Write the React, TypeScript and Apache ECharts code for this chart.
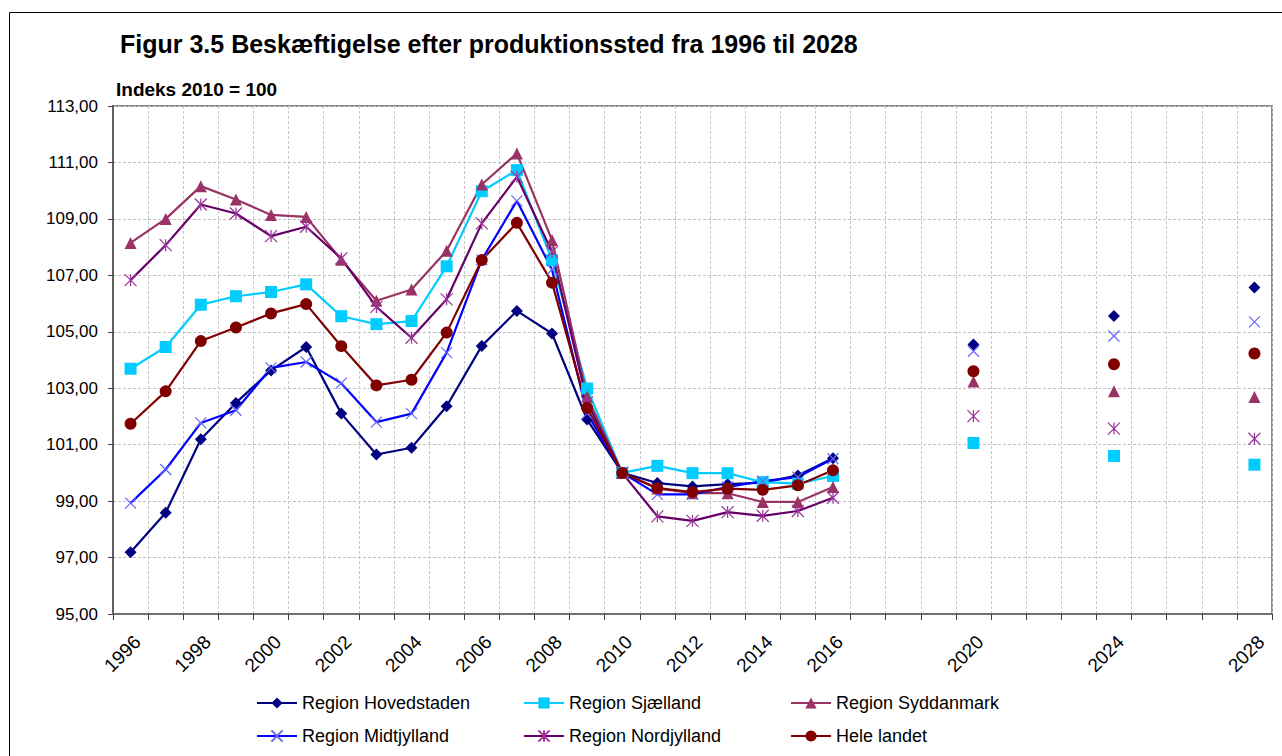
import React, { useEffect, useRef } from "react";
import * as echarts from "echarts";

const years = [
  "1996", "1997", "1998", "1999", "2000", "2001", "2002", "2003", "2004", "2005", "2006",
  "2007", "2008", "2009", "2010", "2011", "2012", "2013", "2014", "2015", "2016",
  "2017", "2018", "2019", "2020", "2021", "2022", "2023", "2024", "2025", "2026", "2027", "2028",
];
const shownYearLabels = [
  "1996", "1998", "2000", "2002", "2004", "2006", "2008", "2010", "2012", "2014", "2016",
  "2020", "2024", "2028",
];

const hovedstaden = [
  97.19, 98.59, 101.19, 102.48, 103.63, 104.46, 102.1, 100.65, 100.89, 102.36, 104.5,
  105.74, 104.94, 101.89, 100.0, 99.64, 99.52, 99.6, 99.65, 99.91, 100.52,
  null, null, null, 104.55, null, null, null, 105.56, null, null, null, 106.57,
];
const sjaelland = [
  103.69, 104.46, 105.96, 106.26, 106.41, 106.68, 105.55, 105.27, 105.38, 107.32, 109.98,
  110.73, 107.54, 102.99, 100.0, 100.25, 99.99, 99.99, 99.67, 99.62, 99.89,
  null, null, null, 101.06, null, null, null, 100.6, null, null, null, 100.29,
];
const syddanmark = [
  108.15, 109.0, 110.16, 109.69, 109.14, 109.07, 107.55, 106.1, 106.5, 107.87, 110.22,
  111.32, 108.25, 102.7, 100.0, 99.45, 99.28, 99.28, 98.97, 98.97, 99.5,
  null, null, null, 103.24, null, null, null, 102.89, null, null, null, 102.69,
];
const midtjylland = [
  98.93, 100.12, 101.77, 102.22, 103.72, 103.93, 103.18, 101.8, 102.1, 104.26, 107.55,
  109.64, 107.2, 102.1, 100.0, 99.24, 99.24, 99.5, 99.71, 99.85, 100.5,
  null, null, null, 104.31, null, null, null, 104.85, null, null, null, 105.35,
];
const nordjylland = [
  106.83, 108.07, 109.51, 109.19, 108.39, 108.72, 107.6, 105.88, 104.79, 106.15, 108.84,
  110.49, 107.83, 102.5, 100.0, 98.46, 98.3, 98.61, 98.48, 98.65, 99.12,
  null, null, null, 102.01, null, null, null, 101.57, null, null, null, 101.21,
];
const heleLandet = [
  101.74, 102.89, 104.67, 105.15, 105.65, 105.98, 104.49, 103.1, 103.3, 104.97, 107.54,
  108.86, 106.74, 102.3, 100.0, 99.46, 99.32, 99.44, 99.4, 99.56, 100.09,
  null, null, null, 103.6, null, null, null, 103.85, null, null, null, 104.23,
];

const FONT = "'Liberation Sans', Arial, sans-serif";
const X_SYMBOL = "path://M0,0L10,10M10,0L0,10";
const STAR_SYMBOL = "path://M0,0L10,10M10,0L0,10M5,0L5,10";

function mkSeries(
  name: string,
  data: (number | null)[],
  lineColor: string,
  markerColor: string,
  symbol: string,
  symbolSize: number,
  stroke: boolean
) {
  return {
    name,
    type: "line",
    data,
    symbol,
    symbolSize,
    showSymbol: true,
    showAllSymbol: true,
    connectNulls: false,
    lineStyle: { color: lineColor, width: 2.2 },
    itemStyle: stroke
      ? { color: markerColor, borderColor: markerColor, borderWidth: 1.2 }
      : { color: markerColor, borderWidth: 0 },
    emphasis: { disabled: true },
  };
}

export default function App() {
  const ref = useRef<HTMLDivElement>(null);

  useEffect(() => {
    if (!ref.current) return;
    const chart = echarts.init(ref.current, null, { renderer: "svg" });
    const legendBase = {
      orient: "vertical",
      top: 693,
      padding: 0,
      itemWidth: 40,
      itemHeight: 14,
      itemGap: 13,
      textStyle: { fontFamily: FONT, fontSize: 18, color: "#000", lineHeight: 20 },
      selectedMode: false,
    };
    chart.setOption({
      animation: false,
      backgroundColor: "#fff",
      textStyle: { fontFamily: FONT },
      graphic: [
        {
          type: "rect",
          shape: { x: 9.5, y: 12.5, width: 1400, height: 900 },
          style: { fill: "none", stroke: "#000", lineWidth: 1 },
          silent: true,
        },
        {
          type: "text",
          left: 120,
          top: 31,
          style: {
            text: "Figur 3.5 Beskæftigelse efter produktionssted fra 1996 til 2028",
            font: `bold 25px ${FONT}`,
            fill: "#000",
          },
        },
        {
          type: "text",
          left: 116,
          top: 80,
          style: {
            text: "Indeks 2010 = 100",
            font: `bold 19px ${FONT}`,
            fill: "#000",
          },
        },
      ],
      grid: {
        left: 113,
        top: 106,
        right: 10,
        bottom: 142,
        show: true,
        borderColor: "#8c8c8c",
        borderWidth: 2,
      },
      legend: [
        { ...legendBase, left: 256, data: ["Region Hovedstaden", "Region Midtjylland"] },
        { ...legendBase, left: 523, data: ["Region Sjælland", "Region Nordjylland"] },
        { ...legendBase, left: 790, data: ["Region Syddanmark", "Hele landet"] },
      ],
      xAxis: {
        type: "category",
        data: years,
        boundaryGap: true,
        axisLine: { show: true, lineStyle: { color: "#707070", width: 2 } },
        axisTick: { show: true, interval: 0, length: 6, lineStyle: { color: "#404040" } },
        splitLine: {
          show: true,
          interval: 0,
          lineStyle: { color: "#c8c8c8", type: [3, 2], width: 1 },
        },
        axisLabel: {
          interval: (_i: number, v: string) => shownYearLabels.indexOf(v) >= 0,
          rotate: 45,
          margin: 18,
          verticalAlign: "top",
          fontFamily: FONT,
          fontSize: 19,
          color: "#000",
        },
      },
      yAxis: {
        type: "value",
        min: 95,
        max: 113,
        interval: 2,
        axisLine: { show: true, lineStyle: { color: "#606060", width: 2 } },
        axisTick: { show: true, length: 5, lineStyle: { color: "#404040" } },
        splitLine: {
          show: true,
          lineStyle: { color: "#c0c0c0", type: [3, 2], width: 1 },
        },
        axisLabel: {
          formatter: (v: number) => v.toFixed(2).replace(".", ","),
          fontFamily: FONT,
          fontSize: 17,
          color: "#000",
          margin: 15,
        },
      },
      series: [
        mkSeries("Region Hovedstaden", hovedstaden, "#000080", "#000080", "diamond", 12, false),
        mkSeries("Region Sjælland", sjaelland, "#00CCFF", "#00CCFF", "rect", 12, false),
        mkSeries("Region Syddanmark", syddanmark, "#993366", "#993366", "triangle", 12, false),
        mkSeries("Region Midtjylland", midtjylland, "#0000FF", "#6666FF", X_SYMBOL, 11, true),
        mkSeries("Region Nordjylland", nordjylland, "#660066", "#993399", STAR_SYMBOL, 12, true),
        mkSeries("Hele landet", heleLandet, "#800000", "#800000", "circle", 12, false),
      ],
    });
    return () => chart.dispose();
  }, []);

  return (
    <div
      ref={ref}
      style={{ position: "absolute", left: 0, top: 0, width: 1282, height: 756 }}
    />
  );
}
